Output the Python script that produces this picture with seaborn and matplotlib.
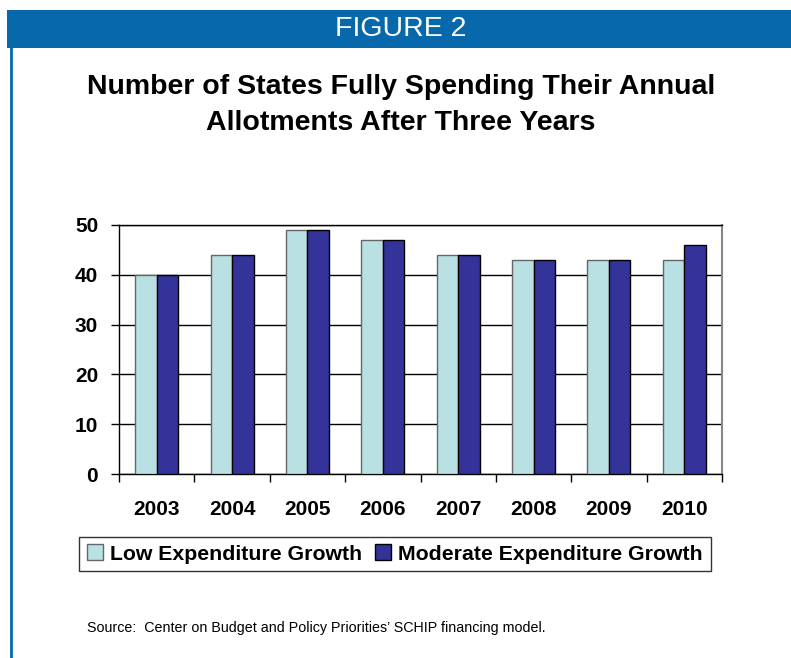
import matplotlib
matplotlib.use("Agg")
import matplotlib.pyplot as plt
import seaborn as sns
import pandas as pd
from matplotlib.patches import Rectangle, Patch
from matplotlib.lines import Line2D

years = ["2003", "2004", "2005", "2006", "2007", "2008", "2009", "2010"]
low_growth = [40, 44, 49, 47, 44, 43, 43, 43]
moderate_growth = [40, 44, 49, 47, 44, 43, 43, 46]
series_names = ["Low Expenditure Growth", "Moderate Expenditure Growth"]
y_ticks = [0, 10, 20, 30, 40, 50]

colors = ["#B9E0E2", "#333399"]
edges = ["#666666", "#000000"]

df = pd.DataFrame({
    "year": years * 2,
    "states": low_growth + moderate_growth,
    "scenario": [series_names[0]] * len(years) + [series_names[1]] * len(years),
})

sns.set_theme(style="white")
plt.rcParams["font.family"] = ["Liberation Sans", "DejaVu Sans"]
plt.rcParams["text.color"] = "black"
plt.rcParams["xtick.color"] = "black"
plt.rcParams["ytick.color"] = "black"
plt.rcParams["xtick.labelcolor"] = "black"
plt.rcParams["ytick.labelcolor"] = "black"

W, H = 791, 658
fig = plt.figure(figsize=(W / 100, H / 100), dpi=100)
fig.patch.set_facecolor("white")

# page header banner and left rule
fig.add_artist(Rectangle((7 / W, 1 - 48 / H), (W - 7) / W, 38 / H,
                         transform=fig.transFigure, facecolor="#0868AC",
                         edgecolor="none", zorder=0))
fig.add_artist(Line2D([10.5 / W, 10.5 / W], [0, 1 - 48 / H],
                      transform=fig.transFigure, color="#0868AC", lw=2))
fig.text(401 / W, 1 - 29 / H, "FIGURE 2", color="white", fontsize=20.5,
         ha="center", va="center",
         family=["Liberation Sans Narrow", "Liberation Sans", "DejaVu Sans"])

fig.text(401 / W, 1 - 87 / H, "Number of States Fully Spending Their Annual",
         fontsize=20.5, fontweight="bold", ha="center", va="center",
         color="black")
fig.text(401 / W, 1 - 123 / H, "Allotments After Three Years",
         fontsize=20.5, fontweight="bold", ha="center", va="center",
         color="black")

ax = fig.add_axes([119 / W, 1 - 474 / H, (722 - 119) / W, (474 - 225) / H])
sns.barplot(data=df, x="year", y="states", hue="scenario", order=years,
            hue_order=series_names, palette=colors, width=0.57,
            saturation=1, ax=ax, legend=False)

for cont, ec in zip(ax.containers, edges):
    for bar in cont:
        bar.set_edgecolor(ec)
        bar.set_linewidth(1.0)
        bar.set_zorder(3)

ax.set_xlim(-0.5, len(years) - 0.5)
ax.set_ylim(0, 50)
ax.set_yticks(y_ticks)
ax.set_xlabel("")
ax.set_ylabel("")
ax.set_axisbelow(True)
ax.yaxis.grid(True, color="black", lw=1)
ax.xaxis.grid(False)

for side in ["left", "bottom", "top"]:
    ax.spines[side].set_color("black")
    ax.spines[side].set_linewidth(1)
ax.spines["right"].set_color("#888888")
ax.spines["right"].set_linewidth(1.5)

ax.set_xticks([i - 0.5 for i in range(len(years) + 1)], minor=True)
ax.tick_params(axis="x", which="major", length=0, pad=19,
               labelsize=15)
ax.tick_params(axis="x", which="minor", length=6, width=1, color="black",
               direction="out", bottom=True)
ax.tick_params(axis="y", length=6, width=1, color="black", direction="out",
               left=True, pad=9, labelsize=15)
for lab in ax.get_xticklabels() + ax.get_yticklabels():
    lab.set_fontweight("bold")
    lab.set_color("black")

handles = [Patch(facecolor=c, edgecolor=e, lw=1) for c, e in zip(colors, edges)]
leg = fig.legend(handles, series_names, loc="center", ncol=2,
                 bbox_to_anchor=(395 / W, 1 - 554 / H),
                 prop={"weight": "bold", "size": 15.3},
                 frameon=True, fancybox=False, edgecolor="black",
                 handlelength=0.75, handleheight=0.75, handletextpad=0.35,
                 columnspacing=0.6, borderpad=0.35, borderaxespad=0)
leg.get_frame().set_linewidth(1)
for t in leg.get_texts():
    t.set_color("black")

fig.text(87 / W, 1 - 628 / H,
         "Source:  Center on Budget and Policy Priorities\u2019 SCHIP financing model.",
         fontsize=10.3, ha="left", va="center", color="black")

fig.savefig("out.png", dpi=100)
